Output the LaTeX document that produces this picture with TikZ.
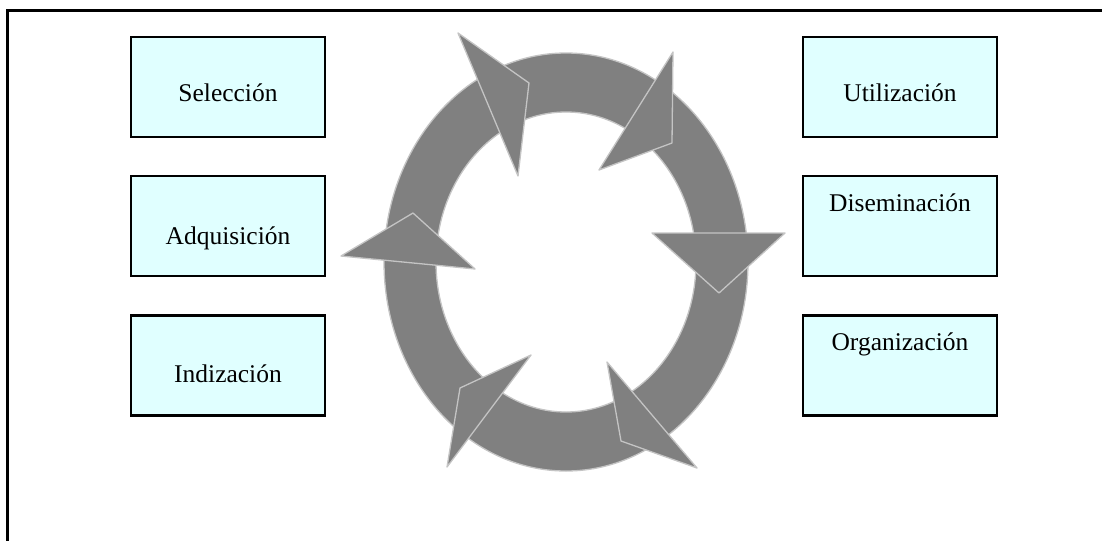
\documentclass[tikz,border=0pt]{standalone}
\usepackage{fontspec}
\setmainfont{Liberation Serif}
\definecolor{boxfill}{HTML}{E0FFFF}
\definecolor{ringfill}{HTML}{808080}
\definecolor{ringline}{HTML}{C4C4C4}
\begin{document}
\begin{tikzpicture}[x=1pt,y=-1pt,
  boxst/.style={draw=black,line width=2.2pt,fill=boxfill,minimum width=194pt,minimum height=100pt,inner sep=0pt},
  txt/.style={anchor=base,inner sep=0pt,font=\fontsize{25.5}{30}\selectfont},
  ringst/.style={fill=ringfill,draw=ringline,line width=1.3pt,line join=round},
  framest/.style={draw=black,line width=2.2pt}]
\useasboundingbox (0,0) rectangle (1102,541);
\fill[white] (0,0) rectangle (1102,541);
% frame (only top and left edges visible)
\coordinate (fa) at (1102,10.5);
\coordinate (fb) at (7.5,10.5);
\coordinate (fc) at (7.5,541);
\draw[framest] (fa) -- (fb) -- (fc);
% ring
\path[ringst,even odd rule] (566,262) ellipse [x radius=182,y radius=209]
  (566,262) ellipse [x radius=130,y radius=150];
% arrow heads
\path[ringst] (458,33) -- (529,83) -- (518,176) -- cycle;
\path[ringst] (673,52) -- (672,143) -- (599,170) -- cycle;
\path[ringst] (413,213) -- (341,256) -- (475,269) -- cycle;
\path[ringst] (652,233) -- (785,233) -- (719,293) -- cycle;
\path[ringst] (531,355) -- (460,388) -- (447,467) -- cycle;
\path[ringst] (607,362) -- (621,441) -- (697,468) -- cycle;
% left boxes
\node[boxst] (sel) at (228,87) {};
\node[boxst] (adq) at (228,226) {};
\node[boxst] (ind) at (228,365.5) {};
\node[txt] (selt) at (228,101.5) {Selección};
\node[txt] (adqt) at (228,244) {Adquisición};
\node[txt] (indt) at (228,382.5) {Indización};
% right boxes
\node[boxst] (uti) at (900,87) {};
\node[boxst] (dis) at (900,226) {};
\node[boxst] (org) at (900,365.5) {};
\node[txt] (utit) at (900,101.5) {Utilización};
\node[txt] (dist) at (900,211.5) {Diseminación};
\node[txt] (orgt) at (900,350) {Organización};
\end{tikzpicture}
\end{document}
